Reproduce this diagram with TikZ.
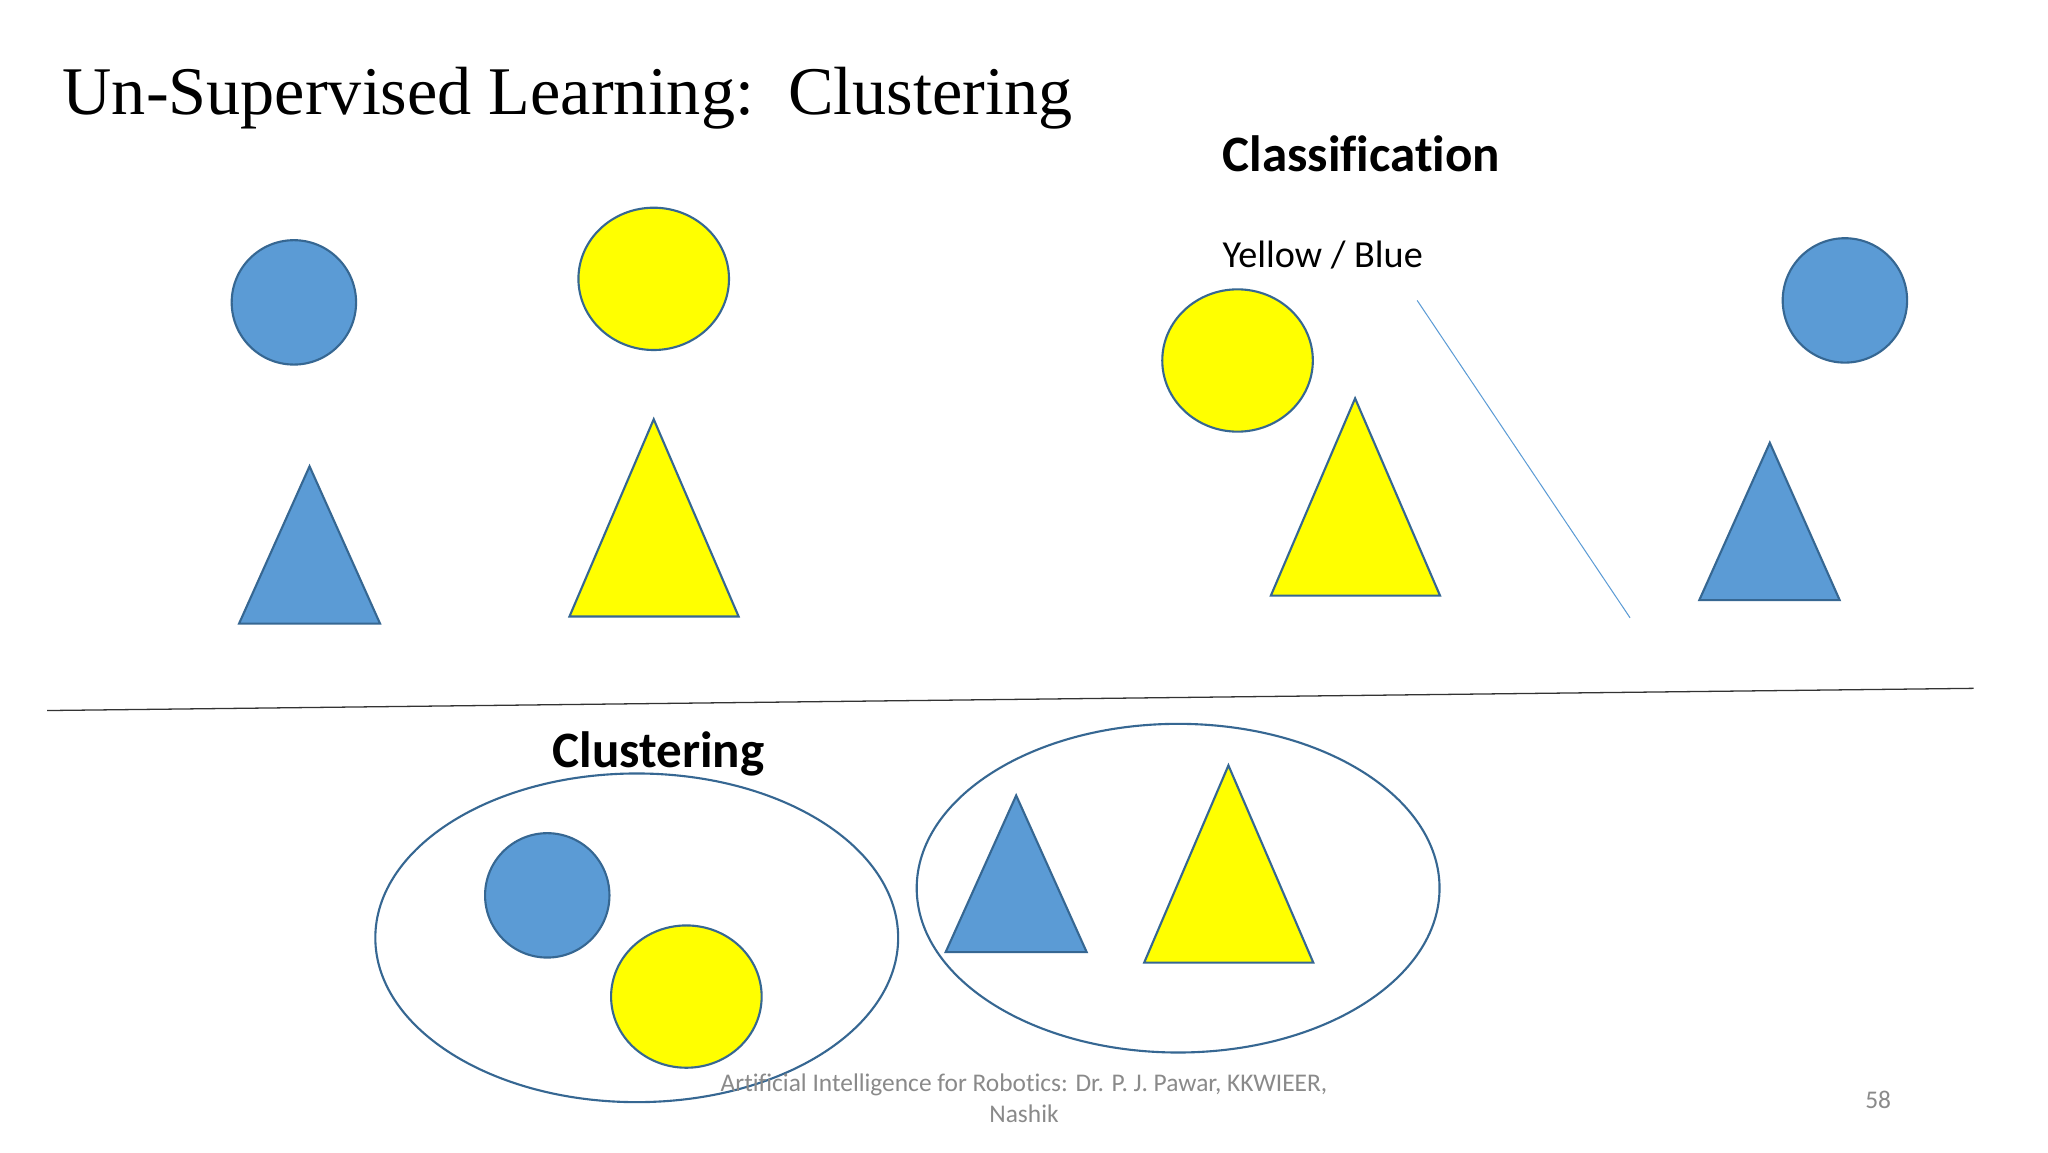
\documentclass[tikz,border=0pt]{standalone}
\usepackage{fontspec}
\setmainfont[Ligatures=NoCommon]{Carlito}
\newfontfamily\titlefont{Liberation Serif}
\usetikzlibrary{shapes.geometric}
\definecolor{shapeblue}{HTML}{5B9BD5}
\definecolor{shapeyellow}{HTML}{FFFF00}
\definecolor{edgeblue}{HTML}{366792}
\definecolor{thinblue}{HTML}{5B9BD5}
\definecolor{footgray}{HTML}{8A8A8A}
\tikzset{
  unit/.style={inner sep=0pt,outer sep=0pt},
  bluedot/.style={unit,circle,draw=edgeblue,fill=shapeblue,line width=2.3pt,minimum size=135.5pt},
  yellowdot/.style={unit,ellipse,draw=edgeblue,fill=shapeyellow,line width=2.3pt,minimum width=164pt,minimum height=155pt},
  tri/.style={draw=edgeblue,line width=2.3pt,line join=miter},
  group/.style={unit,ellipse,draw=edgeblue,line width=2.3pt,minimum width=569.5pt,minimum height=358pt},
  heading/.style={unit,anchor=base west,font=\fontsize{55.6}{66}\selectfont\bfseries},
  foot/.style={unit,text=footgray,font=\fontsize{27.7}{33}\selectfont,align=center}
}
\begin{document}
\begin{tikzpicture}[x=0.05cm,y=-0.05cm]
\useasboundingbox (0,0) rectangle (1568,882);
\fill[white] (0,0) rectangle (1568,882);
\node[unit,anchor=base west,font=\titlefont\fontsize{74.3}{88}\selectfont] (title) at (48,87.5) {Un-Supervised Learning:\ \ Clustering};
\node[heading] (classif) at (936,131.5) {Classification};
\node[unit,anchor=base west,font=\fontsize{41.6}{50}\selectfont] (yb) at (936,204.5) {Yellow / Blue};
\node[heading] (clust) at (423,587.5) {Clustering};
% top-left
\node[bluedot] (c1) at (225,231.5) {};
\node[yellowdot] (c2) at (500.5,213.5) {};
\draw[tri,fill=shapeblue] (237,357) -- (291,477.5) -- (183,477.5) -- cycle;
\draw[tri,fill=shapeyellow] (500.5,321) -- (565.5,472) -- (436,472) -- cycle;
% top-right
\node[yellowdot] (c3) at (947.5,276) {};
\node[bluedot] (c4) at (1412.5,230) {};
\draw[tri,fill=shapeyellow] (1037.5,305) -- (1102.5,456) -- (973,456) -- cycle;
\draw[tri,fill=shapeblue] (1355,339) -- (1408.5,459.5) -- (1301,459.5) -- cycle;
\coordinate (sepA) at (1085,230);
\coordinate (sepB) at (1248,473);
\draw[thinblue,line width=1.1pt] (sepA) -- (sepB);
% divider
\coordinate (divA) at (36,544);
\coordinate (divB) at (1511,527);
\draw[black!80,line width=1.4pt] (divA) -- (divB);
% clusters
\node[group] (g1) at (487.5,718) {};
\node[group] (g2) at (902,680) {};
\node[bluedot] (c5) at (419,685.5) {};
\node[yellowdot] (c6) at (525.5,763) {};
\draw[tri,fill=shapeblue] (778,609) -- (832,729) -- (724,729) -- cycle;
\draw[tri,fill=shapeyellow] (940.5,586) -- (1005.5,737) -- (876,737) -- cycle;
% footer
\node[foot] (ft) at (784,841) {Artificial Intelligence for Robotics: Dr. P. J. Pawar, KKWIEER,\\[1pt]Nashik};
\node[foot] (pg) at (1438,842) {58};
\end{tikzpicture}
\end{document}
